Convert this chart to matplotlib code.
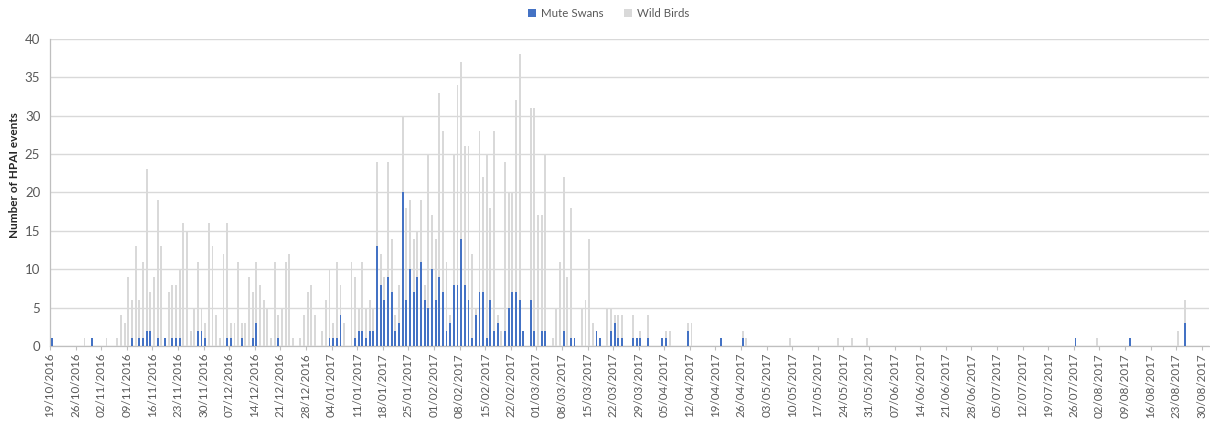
import matplotlib
matplotlib.use("Agg")
import matplotlib.pyplot as plt
import numpy as np
import pandas as pd

plt.rcParams["font.family"] = ["Lato", "DejaVu Sans"]

START_DATE = "2016-10-19"
LAST_LABEL = "2017-08-30"

# daily HPAI events, one row per week starting 19/10/2016 (last two days: 30-31/08/2017)
mute_swans = (
    [1, 0, 0, 0, 0, 0, 0]
    + [0, 0, 0, 0, 1, 0, 0]
    + [0, 0, 0, 0, 0, 0, 0]
    + [0, 1, 0, 1, 1, 2, 2]
    + [0, 1, 0, 1, 0, 1, 1]
    + [1, 0, 0, 0, 0, 2, 2]
    + [1, 0, 0, 0, 0, 0, 1]
    + [1, 0, 0, 1, 0, 0, 1]
    + [3, 0, 0, 0, 0, 0, 1]
    + [0, 0, 0, 0, 0, 0, 0]
    + [0, 0, 0, 0, 0, 0, 1]
    + [1, 1, 4, 0, 0, 0, 1]
    + [2, 2, 1, 2, 2, 13, 8]
    + [6, 9, 7, 2, 3, 20, 6]
    + [10, 7, 9, 11, 6, 5, 10]
    + [6, 9, 7, 2, 3, 8, 8]
    + [14, 8, 6, 1, 4, 7, 7]
    + [1, 6, 2, 3, 0, 2, 5]
    + [7, 7, 6, 2, 0, 6, 2]
    + [0, 2, 2, 0, 0, 0, 0]
    + [2, 0, 1, 1, 0, 0, 0]
    + [0, 0, 2, 1, 0, 0, 2]
    + [3, 1, 1, 0, 0, 1, 1]
    + [1, 0, 1, 0, 0, 0, 1]
    + [1, 0, 0, 0, 0, 0, 2]
    + [0, 0, 0, 0, 0, 0, 0]
    + [0, 1, 0, 0, 0, 0, 0]
    + [1, 0, 0, 0, 0, 0, 0]
    + [0] * 7 * 12
    + [1, 0, 0, 0, 0, 0, 0]
    + [0, 0, 0, 0, 0, 0, 0]
    + [0, 1, 0, 0, 0, 0, 0]
    + [0, 0, 0, 0, 0, 0, 0]
    + [0, 0, 3, 0, 0, 0, 0]
    + [0, 0]
)

wild_birds = (
    [0, 0, 0, 0, 0, 0, 0]
    + [0, 0, 1, 0, 0, 0, 0]
    + [0, 1, 0, 0, 1, 4, 3]
    + [9, 5, 13, 5, 10, 21, 5]
    + [9, 18, 13, 0, 7, 7, 7]
    + [9, 16, 15, 2, 5, 9, 3]
    + [2, 16, 13, 4, 1, 12, 15]
    + [2, 3, 11, 2, 3, 9, 6]
    + [8, 8, 6, 5, 1, 11, 3]
    + [5, 11, 12, 1, 0, 1, 4]
    + [7, 8, 4, 0, 2, 6, 9]
    + [2, 10, 4, 3, 0, 11, 8]
    + [3, 9, 4, 4, 3, 11, 4]
    + [3, 15, 7, 2, 5, 10, 12]
    + [9, 7, 6, 8, 2, 20, 7]
    + [8, 24, 21, 9, 1, 17, 26]
    + [23, 18, 20, 11, 1, 21, 15]
    + [24, 12, 26, 1, 2, 22, 15]
    + [13, 25, 32, 0, 0, 25, 29]
    + [17, 15, 23, 0, 1, 5, 11]
    + [20, 9, 17, 0, 0, 5, 6]
    + [14, 3, 0, 0, 0, 5, 3]
    + [1, 3, 3, 0, 0, 3, 0]
    + [1, 0, 3, 0, 0, 0, 0]
    + [1, 2, 0, 0, 0, 0, 1]
    + [3, 0, 0, 0, 0, 0, 0]
    + [0, 0, 0, 0, 0, 0, 0]
    + [1, 1, 0, 0, 0, 0, 0]
    + [0, 0, 0, 0, 0, 0, 1]
    + [0, 0, 0, 0, 0, 0, 0]
    + [0, 0, 0, 0, 0, 1, 0]
    + [0, 0, 1, 0, 0, 0, 1]
    + [0] * 7 * 8
    + [0, 0, 0, 0, 0, 0, 1]
    + [0] * 7 * 3
    + [2, 0, 3, 0, 0, 0, 0]
    + [0, 0]
)

BLUE = "#4472C4"
GREY = "#D9D9D9"
TEXT = "#595959"
AXIS = "#BFBFBF"

days = np.arange(len(mute_swans))
mute = np.array(mute_swans)
wild = np.array(wild_birds)

tick_dates = pd.date_range(START_DATE, LAST_LABEL, freq="7D")
tick_pos = (tick_dates - pd.Timestamp(START_DATE)).days
tick_labels = tick_dates.strftime("%d/%m/%Y")

fig = plt.figure(figsize=(12.1, 4.23), dpi=100)
ax = fig.add_axes([0.0413, 0.182, 0.958, 0.726])

ax.bar(days + 0.45, mute, width=0.52, color=BLUE, label="Mute Swans", zorder=3)
ax.bar(days + 0.45, wild, width=0.52, bottom=mute, color=GREY, label="Wild Birds", zorder=3)

ax.set_xlim(0, len(days))
ax.set_ylim(0, 40)
ax.set_yticks(np.arange(0, 41, 5))
ax.yaxis.grid(True, color="#D9D9D9", linewidth=1.0, zorder=0)
ax.set_axisbelow(True)

ax.set_xticks(tick_pos)
ax.set_xticklabels(tick_labels, rotation=90, fontsize=8.4, color=TEXT)
ax.tick_params(axis="x", direction="out", length=3, color=AXIS, pad=2)
ax.tick_params(axis="y", length=0, pad=7, labelsize=9.5, labelcolor=TEXT)

for side in ("top", "right"):
    ax.spines[side].set_visible(False)
for side in ("left", "bottom"):
    ax.spines[side].set_color(AXIS)
    ax.spines[side].set_linewidth(0.9)

fig.text(0.012, 0.587, "Number of HPAI events", rotation=90, va="center", ha="center",
         fontsize=8.5, fontweight="bold", color="#262626")

fig.legend(loc="center", bbox_to_anchor=(0.503, 0.969), ncol=2, frameon=False,
           fontsize=8.3, handlelength=0.7, handleheight=0.7, handletextpad=0.4,
           columnspacing=1.8, labelcolor=TEXT)

fig.savefig("out.png", dpi=100)
